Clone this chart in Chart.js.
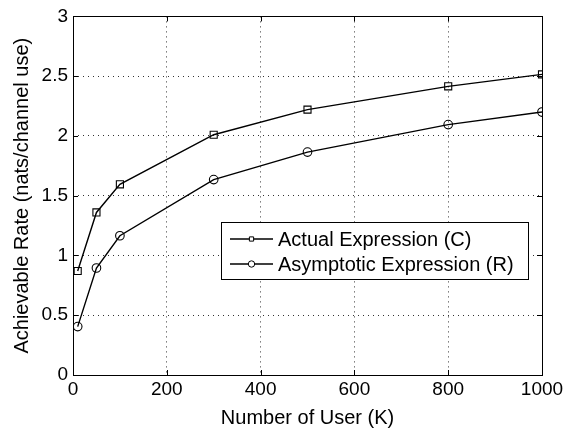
<!DOCTYPE html>
<html>
<head>
<meta charset="utf-8">
<script src="https://cdn.jsdelivr.net/npm/chart.js@4/dist/chart.umd.min.js"></script>
<style>
  html, body { margin: 0; padding: 0; background: #fff; }
  #wrap { width: 575px; height: 432px; }
</style>
</head>
<body>
<div id="wrap"><canvas id="rateChart" width="575" height="432"></canvas></div>
<script>
// values
const users = [10, 50, 100, 300, 500, 800, 1000];
const actualRate = [0.87, 1.36, 1.595, 2.01, 2.22, 2.415, 2.515];
const asymptoticRate = [0.405, 0.895, 1.165, 1.635, 1.865, 2.095, 2.2];
const seriesNames = ['Actual Expression (C)', 'Asymptotic Expression (R)'];
const markerStyles = ['rect', 'circle'];

const FONT = "'Liberation Sans', Arial, Helvetica, sans-serif";

function toPoints(xs, ys) {
  return xs.map((x, i) => ({ x: x, y: ys[i] }));
}

// MATLAB-like box with inward ticks
const boxPlugin = {
  id: 'box',
  afterDatasetsDraw(chart) {
    const { ctx, chartArea: a, scales } = chart;
    const len = 5;
    ctx.save();
    ctx.strokeStyle = '#000';
    ctx.lineWidth = 1;
    ctx.setLineDash([]);
    ctx.beginPath();
    scales.x.ticks.forEach(t => {
      const px = Math.round(scales.x.getPixelForValue(t.value)) + 0.5;
      ctx.moveTo(px, a.bottom); ctx.lineTo(px, a.bottom - len);
      ctx.moveTo(px, a.top); ctx.lineTo(px, a.top + len);
    });
    scales.y.ticks.forEach(t => {
      const py = Math.round(scales.y.getPixelForValue(t.value)) + 0.5;
      ctx.moveTo(a.left, py); ctx.lineTo(a.left + len, py);
      ctx.moveTo(a.right, py); ctx.lineTo(a.right - len, py);
    });
    ctx.stroke();
    ctx.strokeRect(Math.round(a.left) + 0.5, Math.round(a.top) + 0.5,
      Math.round(a.right - a.left), Math.round(a.bottom - a.top));
    ctx.restore();
  }
};

// legend box inside the axes, like the original
const boxLegend = {
  id: 'boxLegend',
  afterDraw(chart) {
    const { ctx } = chart;
    const left = 221, top = 222, w = 307, h = 57;
    ctx.save();
    ctx.fillStyle = '#fff';
    ctx.fillRect(left, top, w, h);
    ctx.strokeStyle = '#000';
    ctx.lineWidth = 1;
    ctx.strokeRect(left + 0.5, top + 0.5, w, h);
    ctx.font = '20px ' + FONT;
    ctx.textBaseline = 'middle';
    chart.data.datasets.forEach((ds, i) => {
      const y = top + 17 + i * 25;
      ctx.strokeStyle = ds.borderColor;
      ctx.lineWidth = ds.borderWidth;
      ctx.beginPath();
      ctx.moveTo(230, y); ctx.lineTo(273, y);
      ctx.stroke();
      ctx.fillStyle = '#fff';
      ctx.lineWidth = 1;
      Chart.helpers.drawPoint(ctx, {
        pointStyle: ds.pointStyle, radius: i === 0 ? 3 : 3.2,
        borderWidth: 1, rotation: 0
      }, 251.5, y);
      ctx.fillStyle = '#000';
      ctx.fillText(ds.label, 278, y + 1);
    });
    ctx.restore();
  }
};

new Chart(document.getElementById('rateChart'), {
  type: 'line',
  data: {
    datasets: [
      { label: seriesNames[0], data: toPoints(users, actualRate), pointStyle: markerStyles[0] },
      { label: seriesNames[1], data: toPoints(users, asymptoticRate), pointStyle: markerStyles[1] }
    ].map((d, i) => Object.assign(d, {
      borderColor: '#000',
      backgroundColor: 'rgba(0,0,0,0)',
      borderWidth: 1.4,
      pointRadius: i === 0 ? 5 : 4.3,
      pointBorderWidth: 1.1,
      pointBorderColor: '#000',
      pointBackgroundColor: 'rgba(0,0,0,0)',
      tension: 0,
      fill: false
    }))
  },
  options: {
    responsive: false,
    animation: false,
    layout: { padding: { top: 6, right: 33, left: 0, bottom: 0 } },
    plugins: { legend: { display: false }, tooltip: { enabled: false } },
    scales: {
      x: {
        type: 'linear',
        min: 0, max: 1000,
        afterFit(scale) { scale.height = 57; },
        ticks: { stepSize: 200, color: '#000', padding: 3, maxRotation: 0,
          font: { family: FONT, size: 19 }, callback: v => String(v) },
        grid: { color: '#333', drawTicks: false, lineWidth: 1 },
        border: { display: false, dash: [1, 4] },
        title: { display: true, text: 'Number of User (K)', color: '#000',
          font: { family: FONT, size: 20 }, padding: { top: 0, bottom: 2 } }
      },
      y: {
        type: 'linear',
        min: 0, max: 3,
        afterFit(scale) { scale.width = 73; },
        ticks: { stepSize: 0.5, color: '#000', padding: 5,
          font: { family: FONT, size: 19 }, callback: v => String(v) },
        grid: { color: '#333', drawTicks: false, lineWidth: 1 },
        border: { display: false, dash: [1, 4] },
        title: { display: true, text: 'Achievable Rate (nats/channel use)', color: '#000',
          font: { family: FONT, size: 20 }, padding: { top: 10, bottom: 0 } }
      }
    }
  },
  plugins: [boxPlugin, boxLegend]
});
</script>
</body>
</html>
